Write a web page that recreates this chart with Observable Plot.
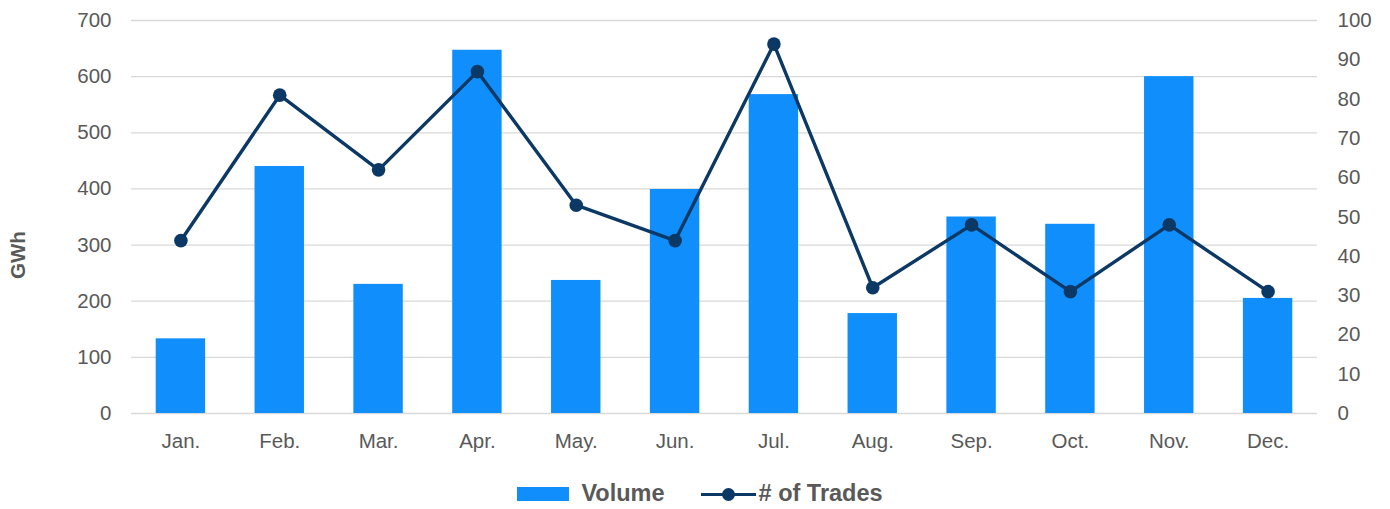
<!DOCTYPE html>
<html>
<head>
<meta charset="utf-8">
<script src="https://cdn.jsdelivr.net/npm/d3@7"></script>
<script src="https://cdn.jsdelivr.net/npm/@observablehq/plot@0.6"></script>
<style>
  html, body { margin: 0; padding: 0; background: #fff; }
  body { width: 1390px; height: 509px; overflow: hidden; font-family: "Liberation Sans", Arial, sans-serif; }
  #chart svg text { font-size: 20.5px; }
  #chart svg text.gwh { font-size: 21px; }
  #legend { margin-top: 4px; height: 59px; display: flex; align-items: center; justify-content: center; color: #595959; font-weight: bold; font-size: 23.5px; padding-left: 10px; box-sizing: border-box; }
  .item { display: flex; align-items: center; }
  .sw-bar { width: 52px; height: 14px; background: #108ffc; margin-right: 12px; }
  .sw-line { position: relative; width: 55px; height: 14px; margin-right: 3px; margin-left: 36px; }
  .sw-line::before { content: ""; position: absolute; left: 0; right: 0; top: 6px; height: 3px; background: #0b3864; }
  .sw-line::after { content: ""; position: absolute; left: 21px; top: 1px; width: 13px; height: 13px; border-radius: 50%; background: #0b3864; }
</style>
</head>
<body>
<div id="chart"></div>
<div id="legend">
  <div class="item"><div class="sw-bar"></div><span>Volume</span></div>
  <div class="item"><div class="sw-line"></div><span># of Trades</span></div>
</div>
<script>
const months = ["Jan.", "Feb.", "Mar.", "Apr.", "May.", "Jun.", "Jul.", "Aug.", "Sep.", "Oct.", "Nov.", "Dec."];
const volume = [133, 440, 230, 647, 237, 399, 568, 178, 350, 337, 600, 205];
const trades = [44, 81, 62, 87, 53, 44, 94, 32, 48, 31, 48, 31];
const leftTicks = [0, 100, 200, 300, 400, 500, 600, 700];
const rightTicks = [0, 10, 20, 30, 40, 50, 60, 70, 80, 90, 100];

const ratio = 700 / 100; // right axis 0–100 mapped onto left 0–700
const data = months.map((m, i) => ({month: m, volume: volume[i], trades: trades[i], tradesScaled: trades[i] * ratio}));

const textColor = "#595959";

const chart = Plot.plot({
  width: 1390,
  height: 460,
  marginLeft: 131,
  marginRight: 73,
  marginTop: 20,
  marginBottom: 47,
  style: {fontFamily: "'Liberation Sans', Arial, sans-serif", fontSize: "20.5px", color: textColor, background: "#fff"},
  x: {domain: months, paddingInner: 0.5, paddingOuter: 0.25, round: false, label: null},
  y: {domain: [0, 700], label: null},
  marks: [
    Plot.gridY(leftTicks, {stroke: "#d9d9d9", strokeOpacity: 1, strokeWidth: 1.3}),
    Plot.barY(data, {x: "month", y: "volume", fill: "#108ffc"}),
    Plot.lineY(data, {x: "month", y: "tradesScaled", stroke: "#0b3864", strokeWidth: 3.4}),
    Plot.dot(data, {x: "month", y: "tradesScaled", r: 6.8, fill: "#0b3864", stroke: "none"}),
    Plot.axisY({anchor: "left", ticks: leftTicks, tickSize: 0, tickPadding: 20, label: null, fill: textColor}),
    Plot.axisY({anchor: "right", ticks: rightTicks.map(d => d * ratio), tickFormat: d => Math.round(d / ratio), tickSize: 0, tickPadding: 20, label: null, fill: textColor, textAnchor: "start"}),
    Plot.axisX({tickSize: 0, tickPadding: 20, label: null, fill: textColor}),
    Plot.text(["GWh"], {frameAnchor: "left", dx: -113, dy: 62, rotate: -90, fontWeight: "bold", fill: textColor, className: "gwh"})
  ]
});
document.getElementById("chart").appendChild(chart);
</script>
</body>
</html>
